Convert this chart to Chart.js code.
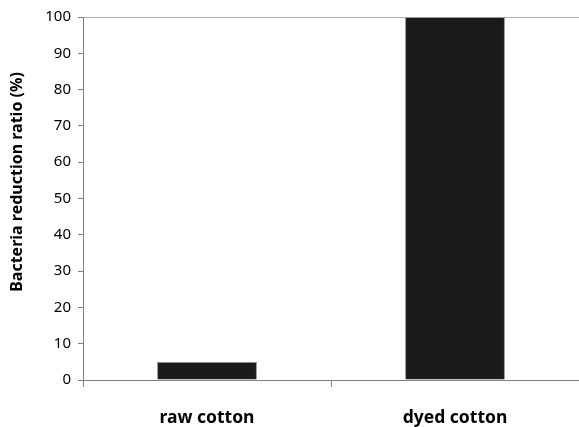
<!DOCTYPE html>
<html>
<head>
<meta charset="utf-8">
<script src="https://cdn.jsdelivr.net/npm/chart.js@4/dist/chart.umd.min.js"></script>
<style>
  html, body { margin: 0; padding: 0; background: #fff; }
  #wrap { width: 579px; height: 427px; }
</style>
</head>
<body>
<div id="wrap"><canvas id="c" width="579" height="427"></canvas></div>
<script>
// data
const categories = ['raw cotton', 'dyed cotton'];
const reduction = [5, 100];
const yTicks = [0, 10, 20, 30, 40, 50, 60, 70, 80, 90, 100];
const yTitle = 'Bacteria reduction ratio (%)';

const font = '"Noto Sans", "Open Sans", sans-serif';

// y title sits a bit above the middle in the picture, so draw it by hand
const yTitlePlugin = {
  id: 'yTitle',
  afterDraw(chart) {
    const c = chart.ctx;
    c.save();
    c.translate(17, 182);
    c.rotate(-Math.PI / 2);
    c.font = 'bold 16px ' + font;
    c.fillStyle = '#000';
    c.textAlign = 'center';
    c.textBaseline = 'middle';
    c.fillText(yTitle, 0, 0);
    c.restore();
  }
};

new Chart(document.getElementById('c'), {
  type: 'bar',
  data: {
    labels: categories,
    datasets: [{
      data: reduction,
      backgroundColor: '#1b1b1b',
      borderColor: '#9a9a9a',
      borderWidth: 1,
      categoryPercentage: 1,
      barPercentage: 0.403
    }]
  },
  plugins: [yTitlePlugin],
  options: {
    responsive: false,
    animation: false,
    layout: { padding: { top: 17, right: 0 } },
    plugins: { legend: { display: false }, tooltip: { enabled: false } },
    scales: {
      x: {
        grid: { offset: true, drawOnChartArea: false, tickLength: 7, color: '#808080' },
        border: { color: '#808080' },
        ticks: { color: '#000', padding: 21, font: { family: font, size: 17.5, weight: 'bold' } },
        afterFit: function(s) { s.height = 47; }
      },
      y: {
        min: 0, max: 100,
        afterBuildTicks: function(s) { s.ticks = yTicks.map(v => ({ value: v })); },
        grid: {
          tickLength: 5,
          color: function(ctx) { return ctx.tick && ctx.tick.value === 100 ? '#b0b0b0' : 'rgba(0,0,0,0)'; },
          tickColor: '#808080'
        },
        border: { color: '#808080' },
        ticks: { color: '#000', padding: 7, font: { family: font, size: 15 } },
        afterFit: function(s) { s.width = 83; }
      }
    }
  }
});
</script>
</body>
</html>
